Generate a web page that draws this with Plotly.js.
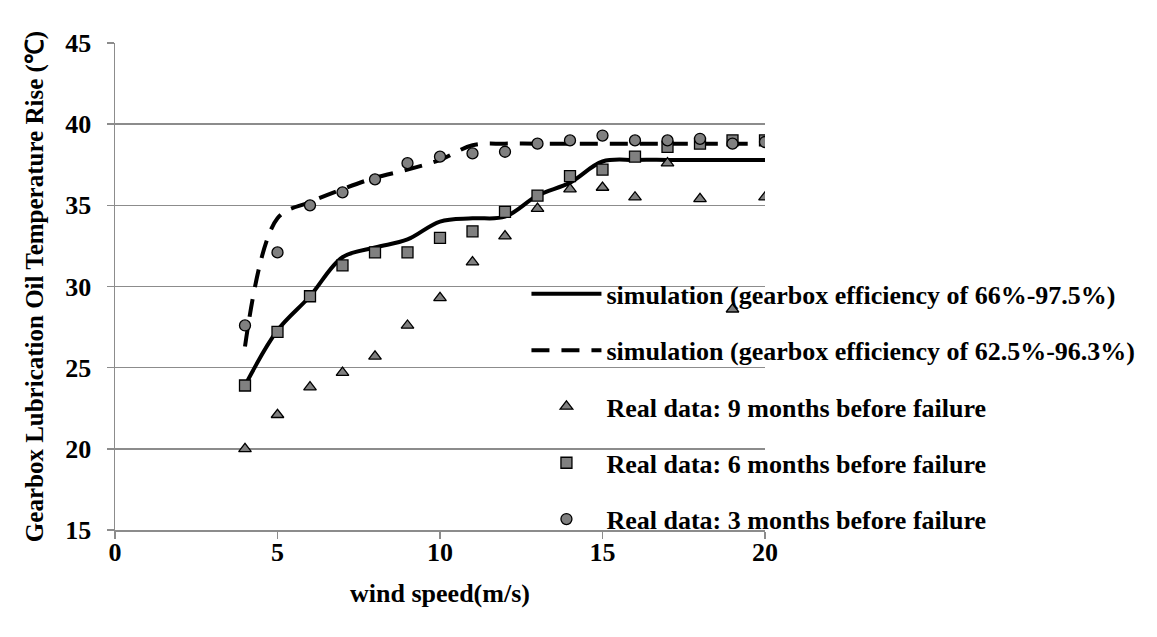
<!DOCTYPE html>
<html>
<head>
<meta charset="utf-8">
<script src="https://cdn.plot.ly/plotly-3.0.1.min.js"></script>
<style>html,body{margin:0;padding:0;background:#fff;}#chart{width:1157px;height:637px;}</style>
</head>
<body>
<div id="chart"></div>
<script>
// wind speed (m/s)
var windSpeed = [4, 5, 6, 7, 8, 9, 10, 11, 12, 13, 14, 15, 16, 17, 18, 19, 20];
// simulation curves
var sim66 = [23.9, 27.3, 29.4, 31.8, 32.4, 32.9, 34.0, 34.2, 34.3, 35.6, 36.4, 37.7, 37.8, 37.8, 37.8, 37.8, 37.8];
var sim625 = [26.3, 34.2, 35.2, 36.0, 36.7, 37.2, 37.8, 38.7, 38.8, 38.8, 38.8, 38.8, 38.8, 38.8, 38.8, 38.8, 38.8];
// real data
var real9 = [20.0, 22.1, 23.8, 24.7, 25.7, 27.6, 29.3, 31.5, 33.1, 34.8, 36.0, 36.1, 35.5, 37.6, 35.4, 28.6, 35.5];
var real6 = [23.9, 27.2, 29.4, 31.3, 32.1, 32.1, 33.0, 33.4, 34.6, 35.6, 36.8, 37.2, 38.0, 38.6, 38.8, 39.0, 39.0];
var real3 = [27.6, 32.1, 35.0, 35.8, 36.6, 37.6, 38.0, 38.2, 38.3, 38.8, 39.0, 39.3, 39.0, 39.0, 39.1, 38.8, 38.9];

var names = [
  "simulation (gearbox efficiency of 66%-97.5%)",
  "simulation (gearbox efficiency of 62.5%-96.3%)",
  "Real data: 9 months before failure",
  "Real data: 6 months before failure",
  "Real data: 3 months before failure"
];

var markerFill = "#808080";
var traces = [
  {x: windSpeed, y: sim66, name: names[0], mode: "lines", legendgroup: "a",
   line: {color: "#000", width: 4, shape: "spline", smoothing: 1}},
  {x: windSpeed, y: sim625, name: names[1], mode: "lines", legendgroup: "b",
   line: {color: "#000", width: 4, shape: "spline", smoothing: 1, dash: "18px,12px"}},
  {x: windSpeed, y: real9, name: names[2], mode: "markers", legendgroup: "c",
   marker: {symbol: "triangle-up", size: 11, color: markerFill, line: {color: "#000", width: 1.3}}},
  {x: windSpeed, y: real6, name: names[3], mode: "markers", legendgroup: "d",
   marker: {symbol: "square", size: 11, color: markerFill, line: {color: "#000", width: 1.3}}},
  {x: windSpeed, y: real3, name: names[4], mode: "markers", legendgroup: "e",
   marker: {symbol: "circle", size: 11, color: markerFill, line: {color: "#000", width: 1.3}}}
];

var fontFam = "Liberation Serif, Times New Roman, serif";
var fs = 26;
var layout = {
  width: 1157, height: 637,
  margin: {l: 115, r: 392, t: 43, b: 107},
  paper_bgcolor: "#fff", plot_bgcolor: "rgba(0,0,0,0)",
  font: {family: fontFam, color: "#000", size: fs, weight: "bold"},
  showlegend: true,
  legend: {
    x: 0.633, y: 0.533, xanchor: "left", yanchor: "top",
    bgcolor: "rgba(0,0,0,0)",
    font: {family: fontFam, size: fs, color: "#000", weight: "bold"},
    traceorder: "grouped", tracegroupgap: 19.5, itemwidth: 70
  },
  xaxis: {
    range: [0, 20], dtick: 5, tick0: 0,
    showgrid: false, zeroline: false,
    showline: true, linecolor: "#8c8c8c", linewidth: 1.5,
    ticks: "outside", ticklen: 7, tickcolor: "#8c8c8c", tickwidth: 1.5,
    ticklabelstandoff: -9,
    tickfont: {family: fontFam, size: fs, color: "#000", weight: "bold"},
    title: {text: "wind speed(m/s)", standoff: 18,
      font: {family: fontFam, size: fs, color: "#000", weight: "bold"}}
  },
  yaxis: {
    range: [15, 45], dtick: 5, tick0: 15,
    showgrid: true, gridcolor: "#8c8c8c", gridwidth: 1.5, zeroline: false,
    showline: true, linecolor: "#8c8c8c", linewidth: 1.5,
    ticks: "outside", ticklen: 7, tickcolor: "#8c8c8c", tickwidth: 1.5,
    ticklabelstandoff: 10,
    tickfont: {family: fontFam, size: fs, color: "#000", weight: "bold"},
    title: {text: "Gearbox Lubrication Oil Temperature Rise (℃)", standoff: 14,
      font: {family: fontFam, size: 25, color: "#000", weight: "bold"}}
  }
};

Plotly.newPlot("chart", traces, layout, {displayModeBar: false, staticPlot: true});
</script>
</body>
</html>
